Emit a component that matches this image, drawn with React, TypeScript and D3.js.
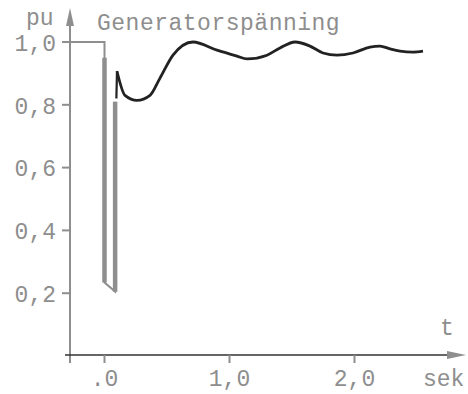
import React from "react";
import * as d3 from "d3";

const W = 468;
const H = 394;

// y ticks
const yTicks = [0.2, 0.4, 0.6, 0.8, 1.0];
const yTickLabels = ["0,2", "0,4", "0,6", "0,8", "1,0"];
// x ticks
const xTicks = [0, 1, 2];
const xTickLabels = [".0", "1,0", "2,0"];

// Fault envelope (grey): [t, pu]
const faultT = [-0.27, 0.0, 0.0, 0.085, 0.085];
const faultV = [1.0, 1.0, 0.234, 0.205, 0.81];

// Recovery (black) curve
const recT = [0.095, 0.1, 0.164, 0.26, 0.364, 0.444, 0.548, 0.708, 0.9, 1.06, 1.14, 1.3, 1.404, 1.524, 1.644, 1.748, 1.86, 1.988, 2.124, 2.204, 2.284, 2.364, 2.468, 2.548];
const recV = [0.82, 0.907, 0.83, 0.814, 0.83, 0.885, 0.958, 1.0, 0.974, 0.955, 0.946, 0.958, 0.981, 1.0, 0.987, 0.965, 0.958, 0.965, 0.984, 0.987, 0.978, 0.971, 0.968, 0.971];

const GREY = "#8e8e8e";
const FONT = "'Liberation Mono', 'DejaVu Sans Mono', monospace";

export default function App() {
  const x = d3.scaleLinear().domain([0, 1]).range([104.5, 229.5]);
  const y = d3.scaleLinear().domain([0, 1]).range([356, 42]);

  const axisX0 = 70;
  const axisY0 = 355;

  const faultPts: [number, number][] = faultT.map((t, i) => [x(t), y(faultV[i])]);
  const faultLine = d3.line()(faultPts) || "";

  const recPts: [number, number][] = recT.map((t, i) => [x(t), y(recV[i])]);
  const recLine = d3.line().curve(d3.curveMonotoneX)(recPts.slice(1)) || "";
  const stub = d3.line()(recPts.slice(0, 2)) || "";

  // thick bars
  const bar1 = d3.line()([[x(faultT[1]), y(0.95)], [x(faultT[2]), y(faultV[2])]]) || "";
  const bar2 = d3.line()([[x(faultT[3]), y(faultV[3])], [x(faultT[4]), y(faultV[4])]]) || "";

  const textStyle = { fontFamily: FONT, fontSize: 23, fill: GREY } as React.CSSProperties;

  return (
    <svg width={W} height={H} style={{ position: "absolute", left: 0, top: 0, background: "#fff" }}>
      {/* y axis */}
      <line x1={axisX0} x2={axisX0} y1={22} y2={363} stroke={GREY} strokeWidth={2} />
      <path d={`M${axisX0},8 L${axisX0 - 4},26 L${axisX0 + 4},26 Z`} fill={GREY} />
      {/* x axis */}
      <line x1={65} x2={452} y1={axisY0} y2={axisY0} stroke="#333" strokeWidth={1.5} />
      <path d={`M466,${axisY0} L447,${axisY0 - 4} L447,${axisY0 + 4} Z`} fill={GREY} />

      {/* y ticks */}
      {yTicks.map((v, i) => (
        <g key={"yt" + i}>
          <line x1={axisX0 - 8} x2={axisX0} y1={y(v)} y2={y(v)} stroke={GREY} strokeWidth={2} />
          <text x={56} y={y(v)} dy="0.38em" textAnchor="end" style={textStyle}>
            {yTickLabels[i]}
          </text>
        </g>
      ))}
      {/* x ticks */}
      {xTicks.map((t, i) => (
        <g key={"xt" + i}>
          <line x1={x(t)} x2={x(t)} y1={axisY0} y2={axisY0 + 8} stroke={GREY} strokeWidth={2} />
          <text x={x(t)} y={386} textAnchor="middle" style={textStyle}>
            {xTickLabels[i]}
          </text>
        </g>
      ))}

      <text x={26} y={25} style={textStyle}>pu</text>
      <text x={97} y={30} style={{ ...textStyle, letterSpacing: 0.5 }}>Generatorspänning</text>
      <text x={440} y={335} style={textStyle}>t</text>
      <text x={423} y={386} style={textStyle}>sek</text>

      {/* fault envelope */}
      <path d={faultLine} fill="none" stroke={GREY} strokeWidth={2} />
      <path d={bar1} fill="none" stroke={GREY} strokeWidth={4.5} />
      <path d={bar2} fill="none" stroke={GREY} strokeWidth={4.5} />
      <path d={stub} fill="none" stroke="#222" strokeWidth={2.2} />
      <path d={recLine} fill="none" stroke="#222" strokeWidth={2.8} />
    </svg>
  );
}
